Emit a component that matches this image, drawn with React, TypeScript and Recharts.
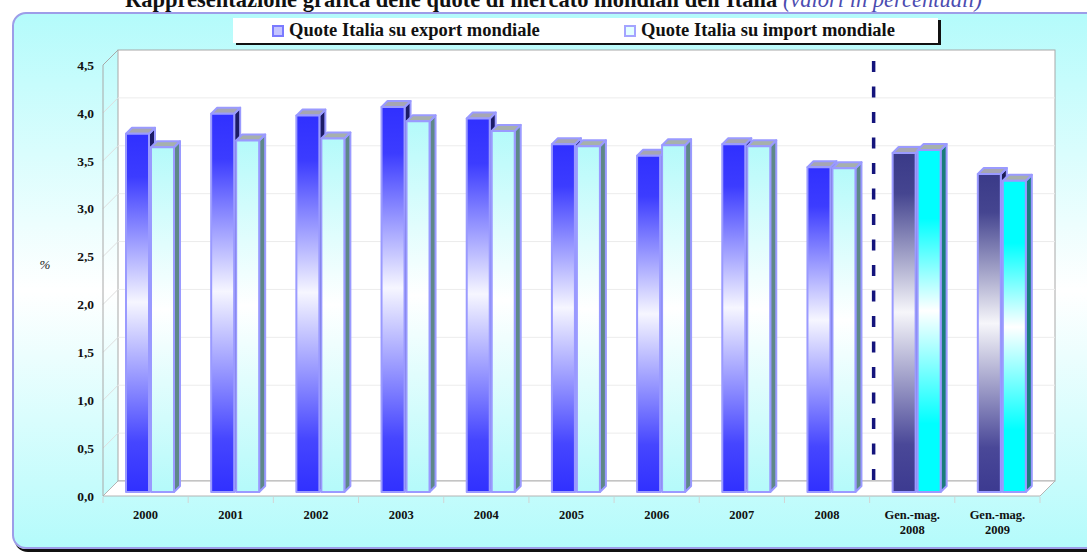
import { BarChart, Bar, XAxis, YAxis, ReferenceArea, ReferenceLine } from 'recharts';

// quote di mercato mondiali dell'Italia (%)
const periods = [
  '2000',
  '2001',
  '2002',
  '2003',
  '2004',
  '2005',
  '2006',
  '2007',
  '2008',
  'Gen.-mag. 2008',
  'Gen.-mag. 2009',
];
const exportShare = [3.74, 3.95, 3.93, 4.02, 3.9, 3.63, 3.51, 3.63, 3.39, 3.54, 3.32];
const importShare = [3.6, 3.67, 3.69, 3.87, 3.77, 3.61, 3.62, 3.61, 3.38, 3.57, 3.25];
// periodi parziali (gennaio-maggio)
const partialYear = [false, false, false, false, false, false, false, false, false, true, true];
const yTicks = [0, 0.5, 1, 1.5, 2, 2.5, 3, 3.5, 4, 4.5];

const data = periods.map((period, i) => ({
  period,
  export: exportShare[i],
  import: importShare[i],
  partial: partialYear[i],
}));

const FONT = '"Liberation Serif", "Times New Roman", serif';
const WALL = 15; // profondita' della scatola 3D
const BAR_SHIFT = 4; // le colonne stanno poco dietro il piano frontale
const BAR_DEPTH = 6;
const Y_MAX = yTicks[yTicks.length - 1];

const fmt = (v: number) => v.toFixed(1).replace('.', ',');

// pareti, pavimento e griglia della scatola 3D
const Frame = (props: any) => {
  const { x, y, width: w, height: h } = props;
  const n = periods.length;
  const inner = yTicks.filter((t) => t > 0 && t < Y_MAX);
  return (
    <g>
      <rect x={x + WALL} y={y - WALL} width={w} height={h} fill="#ffffff" stroke="#a8a8a8" />
      {inner.map((t) => {
        const yy = y + h * (1 - t / Y_MAX);
        return (
          <g key={t}>
            <line x1={x + WALL} y1={yy - WALL} x2={x + w + WALL} y2={yy - WALL} stroke="#ececec" />
            <line x1={x} y1={yy} x2={x + WALL} y2={yy - WALL} stroke="#dedede" />
          </g>
        );
      })}
      <polygon
        points={`${x},${y + h} ${x + w},${y + h} ${x + w + WALL},${y + h - WALL} ${x + WALL},${y + h - WALL}`}
        fill="#ffffff"
        stroke="#b4b4b4"
      />
      <line x1={x} y1={y} x2={x + WALL} y2={y - WALL} stroke="#a8a8a8" />
      <line x1={x} y1={y} x2={x} y2={y + h} stroke="#a8a8a8" />
      {Array.from({ length: n + 1 }, (_, i) => (
        <line
          key={i}
          x1={x + (i * w) / n}
          y1={y + h + 1}
          x2={x + (i * w) / n}
          y2={y + h + 7}
          stroke="#d4d4d4"
        />
      ))}
    </g>
  );
};

const faces = {
  export: { fill: 'gExp', side: '#1c1c66', top: '#a6a6b2' },
  import: { fill: 'gImp', side: '#5e8888', top: '#a6b0ac' },
  exportPartial: { fill: 'gExpP', side: '#1c1c55', top: '#a6a6b2' },
  importPartial: { fill: 'gImpP', side: '#1a7c7c', top: '#a6b0ac' },
};

const makeBar = (series: 'export' | 'import') => (props: any) => {
  const { x, y, width: w, height: h, payload } = props;
  if (h == null || h <= 0) return <g />;
  const f = faces[payload.partial ? (series === 'export' ? 'exportPartial' : 'importPartial') : series];
  const fx = x + BAR_SHIFT;
  const fy = y - BAR_SHIFT;
  const d = BAR_DEPTH;
  const stroke = { stroke: '#9a9aff', strokeWidth: 2, strokeLinejoin: 'round' as const };
  return (
    <g>
      <polygon
        points={`${fx + w},${fy} ${fx + w + d},${fy - d} ${fx + w + d},${fy + h - d} ${fx + w},${fy + h}`}
        fill={f.side}
        {...stroke}
      />
      <polygon
        points={`${fx},${fy} ${fx + d},${fy - d} ${fx + w + d},${fy - d} ${fx + w},${fy}`}
        fill={f.top}
        {...stroke}
      />
      <rect x={fx} y={fy} width={w} height={h} fill={`url(#${f.fill})`} {...stroke} />
    </g>
  );
};

const PeriodTick = (props: any) => {
  const { x, y, payload } = props;
  const parts = String(payload.value).split(' ');
  return (
    <text x={x} y={y + 15} textAnchor="middle" fontFamily={FONT} fontSize={12.5} fontWeight={700} fill="#111">
      {parts.map((p, i) => (
        <tspan key={i} x={x} dy={i === 0 ? 0 : 15}>
          {p}
        </tspan>
      ))}
    </text>
  );
};

const Gradients = () => (
  <svg width={0} height={0} style={{ position: 'absolute' }}>
    <defs>
      <linearGradient id="gExp" x1="0" y1="0" x2="0" y2="1">
        <stop offset="0" stopColor="#3030ff" />
        <stop offset="0.12" stopColor="#3c3cff" />
        <stop offset="0.47" stopColor="#f6f6ff" />
        <stop offset="0.86" stopColor="#4646ff" />
        <stop offset="1" stopColor="#3030ff" />
      </linearGradient>
      <linearGradient id="gImp" x1="0" y1="0" x2="0" y2="1">
        <stop offset="0" stopColor="#b4fafa" />
        <stop offset="0.47" stopColor="#ffffff" />
        <stop offset="1" stopColor="#b4fafa" />
      </linearGradient>
      <linearGradient id="gExpP" x1="0" y1="0" x2="0" y2="1">
        <stop offset="0" stopColor="#3a3a88" />
        <stop offset="0.12" stopColor="#454590" />
        <stop offset="0.47" stopColor="#f6f6fa" />
        <stop offset="0.86" stopColor="#4a4898" />
        <stop offset="1" stopColor="#3c3a90" />
      </linearGradient>
      <linearGradient id="gImpP" x1="0" y1="0" x2="0" y2="1">
        <stop offset="0" stopColor="#00ffff" />
        <stop offset="0.2" stopColor="#00ffff" />
        <stop offset="0.47" stopColor="#ffffff" />
        <stop offset="0.8" stopColor="#00ffff" />
        <stop offset="1" stopColor="#00ffff" />
      </linearGradient>
    </defs>
  </svg>
);

const LegendItem = ({ label, inner, border }: { label: string; inner: string; border: string }) => (
  <span style={{ display: 'inline-flex', alignItems: 'center' }}>
    <span
      style={{
        display: 'inline-block',
        width: 8,
        height: 8,
        background: inner,
        border: `2px solid ${border}`,
        marginRight: 5,
      }}
    />
    {label}
  </span>
);

export default function App() {
  return (
    <div
      style={{
        position: 'absolute',
        left: 0,
        top: 0,
        width: 1087,
        height: 553,
        overflow: 'hidden',
        fontFamily: FONT,
      }}
    >
      <Gradients />
      <div
        style={{
          position: 'absolute',
          left: 12,
          top: 12,
          width: 1100,
          height: 533,
          borderRadius: 14,
          border: '2px solid #9d9de8',
          background: 'linear-gradient(180deg, #b4fbfb 0%, #ffffff 52%, #b4fbfb 100%)',
          boxShadow: '2px 3px 0 #111',
        }}
      />
      <div
        style={{
          position: 'absolute',
          left: 125,
          top: -9,
          whiteSpace: 'nowrap',
          fontSize: 22.5,
          lineHeight: '18px',
          fontWeight: 700,
          color: '#111',
        }}
      >
        Rappresentazione grafica delle quote di mercato mondiali dell'Italia{' '}
        <span style={{ fontStyle: 'italic', fontWeight: 400, color: '#4c4cb0' }}>(valori in percentuali)</span>
      </div>
      <div
        style={{
          position: 'absolute',
          left: 233,
          top: 18,
          width: 705,
          height: 25,
          background: '#ffffff',
          boxShadow: '3px 2px 0 #111',
          fontSize: 18.5,
          fontWeight: 700,
          color: '#111',
          lineHeight: '25px',
        }}
      >
        <span style={{ position: 'absolute', left: 39 }}>
          <LegendItem label="Quote Italia su export mondiale" inner="#c4c4ff" border="#7a7aff" />
        </span>
        <span style={{ position: 'absolute', left: 391 }}>
          <LegendItem label="Quote Italia su import mondiale" inner="#e4ffff" border="#a4a4ff" />
        </span>
      </div>
      <div style={{ position: 'absolute', left: 0, top: 0 }}>
        <BarChart
          width={1087}
          height={553}
          data={data}
          margin={{ top: 65, right: 47, bottom: 27, left: 43 }}
          barSize={23}
          barGap={2}
        >
          <ReferenceArea y1={0} y2={Y_MAX} shape={<Frame />} fill="none" ifOverflow="visible" />
          <XAxis
            dataKey="period"
            axisLine={false}
            tickLine={false}
            height={30}
            interval={0}
            tick={<PeriodTick />}
          />
          <YAxis
            domain={[0, Y_MAX]}
            ticks={yTicks}
            width={60}
            axisLine={false}
            tickLine={false}
            tickSize={6}
            tickMargin={3}
            tickFormatter={fmt}
            tick={{ fill: '#111', fontSize: 13.5, fontWeight: 700, fontFamily: FONT }}
            label={{
              content: (p: any) => (
                <text
                  x={p.viewBox.x + 2}
                  y={p.viewBox.y + p.viewBox.height / 2 - 12}
                  textAnchor="middle"
                  fontFamily={FONT}
                  fontSize={13}
                  fontStyle="italic"
                  fill="#222"
                >
                  %
                </text>
              ),
            }}
          />
          <Bar dataKey="export" shape={makeBar('export')} isAnimationActive={false} />
          <Bar dataKey="import" shape={makeBar('import')} isAnimationActive={false} />
          <ReferenceLine
            x="2008"
            position="end"
            ifOverflow="visible"
            shape={(p: any) => (
              <line
                x1={p.x1 + BAR_SHIFT}
                y1={p.y1 - WALL - 1}
                x2={p.x2 + BAR_SHIFT}
                y2={p.y2 - WALL + 3}
                stroke="#14147c"
                strokeWidth={3.5}
                strokeDasharray="11 14.5"
              />
            )}
          />
        </BarChart>
      </div>
    </div>
  );
}
